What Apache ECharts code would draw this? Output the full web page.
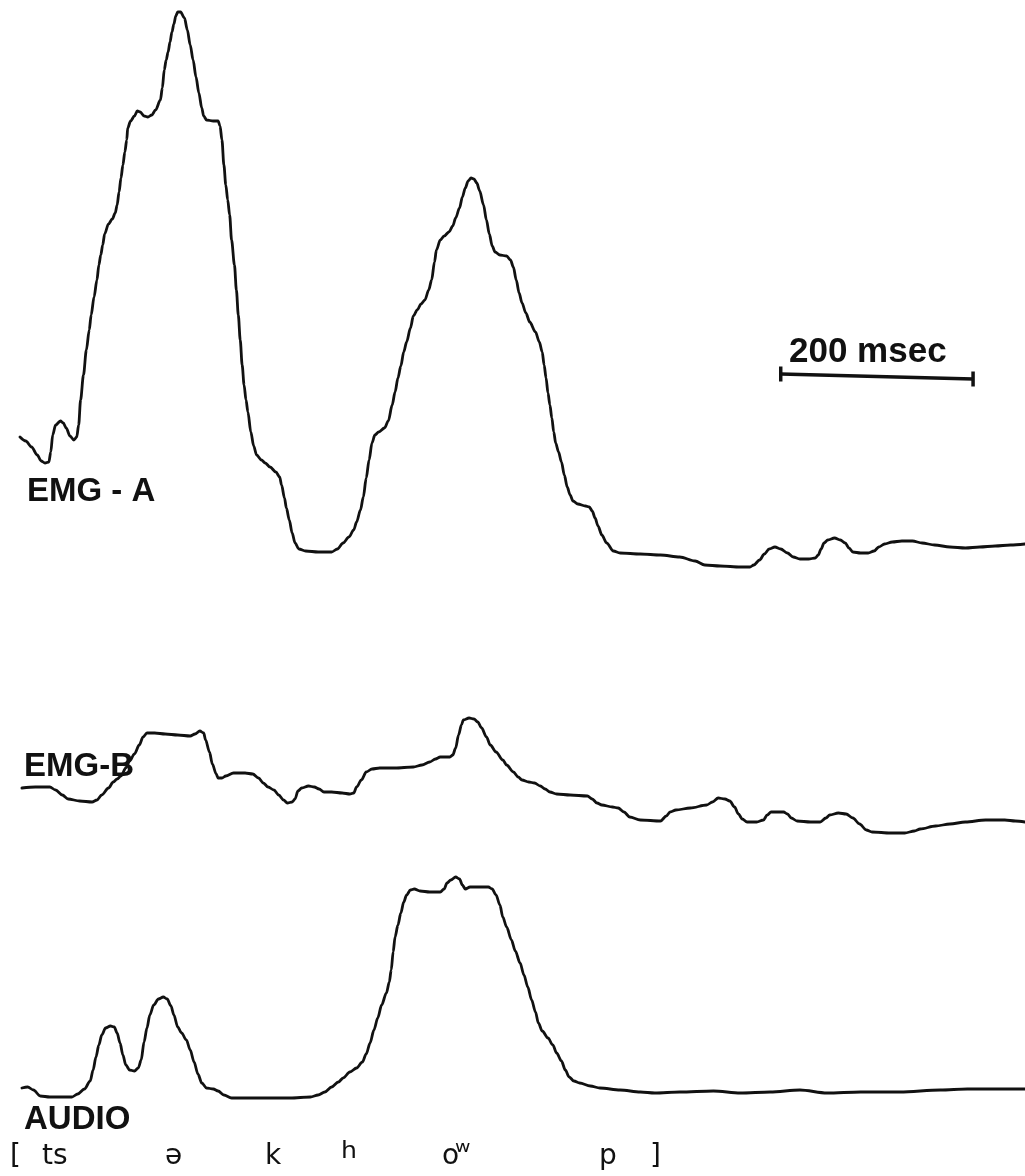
<!DOCTYPE html>
<html>
<head>
<meta charset="utf-8">
<title>EMG-A, EMG-B and audio envelope</title>
<script src="https://cdn.jsdelivr.net/npm/echarts@6/dist/echarts.min.js"></script>
<style>
  html, body { margin: 0; padding: 0; background: #fff; }
  #chart { width: 1025px; height: 1176px; }
</style>
</head>
<body>
<div id="chart"></div>
<script>
// Time in ms from the start of the record, amplitude in arbitrary units.
var emgA = [
  [0,71.5],[6,69.5],[12,66.5],[18,62.5],[22,59.5],[26,58.5],[30,59],[32,64],[34,72.5],[37,77.5],
  [42,79.5],[45,78.5],[48,76],[52,72],[56,70],[59,71.5],[61,77.5],[63,90],[66,102.5],[69,115],
  [72,125],[74,132.5],[77,141.5],[80,150],[82,157.5],[84,162.5],[86,167.5],[88,173],[92,178],[96,180.5],
  [99,183.5],[101,187.5],[103,194],[105,201],[107,207.5],[109,214],[111,220],[112,226],[115,229.5],[119,232],
  [122,234.5],[125,234],[129,232],[133,231.5],[137,232.5],[141,235],[146,240],[148,246],[150,255],[152,260],
  [154,264],[156,269],[158,274],[160,278],[162,282],[164,284],[167,284],[171,281],[174,275],[177,267.5],
  [180,260],[183,251.5],[186,243.5],[189,236],[191,232],[194,230],[201,229.5],[206,229.5],[208,227],[210,220],
  [212,207.5],[214,197.5],[216,190],[218,182.5],[220,170],[223,157.5],[225,145],[227,132.5],[229,120],[231,107.5],
  [233,97.5],[235,90],[237,84],[240,74],[243,67],[246,62.5],[251,60],[255,58.5],[260,56.5],[266,54],
  [270,51.5],[272,47.5],[275,41],[277,36],[280,30],[283,23.5],[286,18.5],[290,15.5],[297,14.5],[310,14],
  [324,14],[330,15.5],[336,18.5],[342,21.5],[347,25],[350,29],[354,35],[357,41.5],[360,51],[363,60],
  [366,68.5],[369,72.5],[373,74],[379,76],[383,79.5],[387,87.5],[390,94],[393,101],[396,107],[399,114],
  [402,119],[406,126],[409,132],[413,135],[417,138],[421,140],[425,145],[428,150],[431,159],[433,165],
  [437,170],[441,172],[446,174],[450,177],[453,181],[457,186],[460,191.5],[463,196],[466,199.5],[469,201],
  [472,200.5],[475,198.5],[478,194.5],[482,187.5],[485,180],[488,173],[491,167],[494,164],[499,162.5],[506,162],
  [510,160],[513,156.5],[516,150],[519,143.5],[522,138.5],[526,133.5],[530,129],[536,124],[540,119],[543,114],
  [545,107.5],[547,101],[549,93.5],[551,87.5],[553,81],[555,74],[557,68.5],[560,64],[563,59],[566,52.5],
  [569,46.5],[572,42.5],[575,39.5],[580,38],[588,37],[592,36.5],[595,34.5],[598,31],[601,27],[605,22.5],
  [610,18.5],[617,14.5],[624,13.5],[645,13],[666,12.5],[686,11.5],[702,9.5],[712,7.5],[728,7],[749,6.5],
  [759,6.5],[763,7.5],[769,10],[774,13],[779,15.5],[785,16.5],[791,15.5],[798,13.5],[804,11.5],[811,10.5],
  [820,10.5],[827,11],[830,12.5],[833,15.5],[836,18.5],[840,20],[847,21],[853,20],[858,18.5],[862,16],
  [866,14],[874,13.5],[882,13.5],[888,14.5],[893,16.5],[899,18],[907,19],[917,19.5],[928,19.5],[938,18.5],
  [951,17.5],[967,16.5],[983,16],[998,16.5],[1014,17],[1030,17.5],[1045,18]
];

var emgB = [
  [2,31],[16,31.5],[31,31.5],[37,30],[44,27.5],[50,25.5],[62,24.5],[75,24],[80,25],[85,27.5],
  [92,31],[97,34],[101,35.5],[105,37],[110,41],[114,44.5],[119,48],[124,52.5],[128,56.5],[132,58.5],
  [140,58.5],[151,58],[164,57.5],[177,57],[182,58],[187,59.5],[191,58.5],[193,55],[197,49],[200,43],
  [204,38],[206,36],[210,36],[214,37],[222,38.5],[234,38.5],[242,38],[248,36],[253,33.5],[258,31.5],
  [264,30],[269,27.5],[274,25],[278,23.5],[283,24],[286,25.5],[289,29.5],[293,31],[300,32],[306,31.5],
  [311,30.5],[316,29],[324,29],[335,28.5],[343,28],[347,28.5],[350,31.5],[355,35],[360,39],[366,40.5],
  [374,41],[390,41],[409,41.5],[418,42.5],[426,44],[432,45.5],[437,46.5],[447,46.5],[450,47.5],[453,51],
  [456,57.5],[459,62.5],[461,65],[467,66],[472,65.5],[476,64],[480,61],[485,56.5],[489,52.5],[495,49],
  [502,45],[506,42.5],[513,39],[518,36.5],[522,35],[529,34],[535,33.5],[541,32],[546,30.5],[551,29],
  [558,28],[572,27.5],[590,27],[595,25.5],[600,23.5],[605,22.5],[616,21.5],[622,21],[628,19],[634,16.5],
  [645,15],[666,14.5],[672,17],[676,19],[682,20],[697,21],[714,22.5],[720,24],[726,26],[733,25.5],
  [738,24.5],[743,21.5],[747,18],[751,15.5],[756,14],[766,14],[773,15],[777,17.5],[781,19],[794,19],
  [798,18],[802,16],[808,14.5],[822,14],[832,14],[838,16],[842,17.5],[851,18.5],[859,18],[866,16],
  [873,13],[880,10],[886,9],[905,8.5],[920,8.5],[930,9.5],[936,10.5],[952,12],[967,13],[983,14],
  [1004,15],[1024,15],[1035,14.5],[1045,14]
];

var audio = [
  [2,6],[8,6.5],[14,5],[21,2],[31,1.5],[44,1.5],[54,1.5],[60,3],[67,5.5],[73,9.5],
  [76,15],[79,21.5],[82,27.5],[85,32.5],[89,36],[94,37],[98,36.5],[101,33.5],[104,28.5],[107,22.5],
  [110,17.5],[114,15],[119,14.5],[123,16],[126,20],[129,29],[132,36],[135,42.5],[139,47.5],[144,50.5],
  [149,51.5],[153,50.5],[157,47],[160,42.5],[164,36.5],[168,33.5],[173,30],[177,25],[181,19],[185,13],
  [189,8.5],[194,6],[201,5.5],[206,4.5],[212,2.5],[220,1],[239,1],[260,1],[281,1],[302,1.5],
  [310,2.5],[317,4],[324,6.5],[331,9],[336,11],[343,14],[350,16],[356,19],[360,23],[364,28.5],
  [368,35],[372,41],[376,47.5],[381,53.5],[384,59],[386,65],[388,74],[390,81.5],[393,87.5],[396,93.5],
  [399,99],[402,102.5],[406,105],[410,105.5],[416,104.5],[426,104],[437,104],[441,105.5],[444,108.5],[448,110],
  [453,111.5],[457,110.5],[460,107.5],[463,105.5],[468,106.5],[476,106.5],[487,106.5],[491,105.5],[495,102.5],[499,97.5],
  [502,91.5],[506,86.5],[511,80],[515,74.5],[520,68.5],[524,62.5],[528,56.5],[532,50],[536,44],[539,38.5],
  [543,34.5],[549,31],[554,27.5],[558,23.5],[563,19.5],[567,15],[571,11.5],[576,9.5],[582,8.5],[593,7],
  [603,6],[624,5],[645,4],[660,3.5],[686,4],[721,4.5],[749,3.5],[780,4],[811,5],[839,3.5],
  [874,4],[915,4],[957,5],[985,5.5],[1019,5.5],[1045,5.5]
];

var traceLabels = ['EMG - A', 'EMG-B', 'AUDIO'];
var transcription = ['[', 'ts', '\u0259', 'k', '\u02B0', 'o', '\u02B7', 'p', ']'];

// 200 ms calibration bar, placed on the EMG-A time axis
var scaleBarLabel = '200 msec';
var scaleBarStartMs = 791;
var scaleBarLengthMs = 200;

var INK = '#111';
var timeMax = 1045;

function traceSeries(data, idx) {
  return {
    type: 'line',
    xAxisIndex: idx,
    yAxisIndex: idx,
    data: data,
    showSymbol: false,
    symbol: 'none',
    smooth: 0.3,
    smoothMonotone: 'x',
    clip: false,
    silent: true,
    lineStyle: { color: INK, width: 2.8, cap: 'round', join: 'round' }
  };
}

var labelFont = 'bold 33px "Liberation Sans", Arial, sans-serif';
var phoneFont = '28px "DejaVu Sans", sans-serif';

function label(text, x, y, font) {
  return {
    type: 'text',
    x: x, y: y,
    silent: true,
    style: { text: text, font: font, fill: INK, textAlign: 'left', textVerticalAlign: 'middle' }
  };
}

// left edge, vertical centre and font of each transcription symbol
var phoneX = [10, 42, 165, 265, 341, 442, 455, 599, 650];
var phoneY = [1157, 1157, 1157, 1157, 1161, 1157, 1154, 1157, 1157];
var phoneFonts = [phoneFont, phoneFont, phoneFont, phoneFont, '40px "DejaVu Sans", sans-serif',
  phoneFont, '30px "DejaVu Sans", sans-serif', phoneFont, phoneFont];

var graphics = [
  label(traceLabels[0], 27, 492, labelFont),
  label(traceLabels[1], 24, 767, labelFont),
  label(traceLabels[2], 24, 1120, labelFont),
  label(scaleBarLabel, 789, 352, 'bold 35px "Liberation Sans", Arial, sans-serif')
];
transcription.forEach(function (t, i) {
  graphics.push(label(t, phoneX[i], phoneY[i], phoneFonts[i]));
});

var chart = echarts.init(document.getElementById('chart'), null, { renderer: 'canvas' });

chart.setOption({
  backgroundColor: '#fff',
  animation: false,
  grid: [
    { left: 20, right: 0, top: 0, height: 580 },
    { left: 20, right: 0, top: 270, height: 580 },
    { left: 20, right: 0, top: 860, height: 240 }
  ],
  xAxis: [0, 1, 2].map(function (i) {
    return { type: 'value', gridIndex: i, min: 0, max: timeMax, show: false };
  }),
  yAxis: [
    { type: 'value', gridIndex: 0, min: 0, max: 290, show: false },
    { type: 'value', gridIndex: 1, min: 0, max: 290, show: false },
    { type: 'value', gridIndex: 2, min: 0, max: 120, show: false }
  ],
  series: [
    traceSeries(emgA, 0),
    traceSeries(emgB, 1),
    traceSeries(audio, 2),
    {
      type: 'line',
      xAxisIndex: 0,
      yAxisIndex: 0,
      data: [[scaleBarStartMs, 103], [scaleBarStartMs + scaleBarLengthMs, 100.5]],
      symbol: 'rect',
      symbolSize: [3.5, 15],
      showSymbol: true,
      clip: false,
      silent: true,
      itemStyle: { color: INK },
      lineStyle: { color: INK, width: 3.4 }
    }
  ],
  graphic: graphics
});
</script>
</body>
</html>
